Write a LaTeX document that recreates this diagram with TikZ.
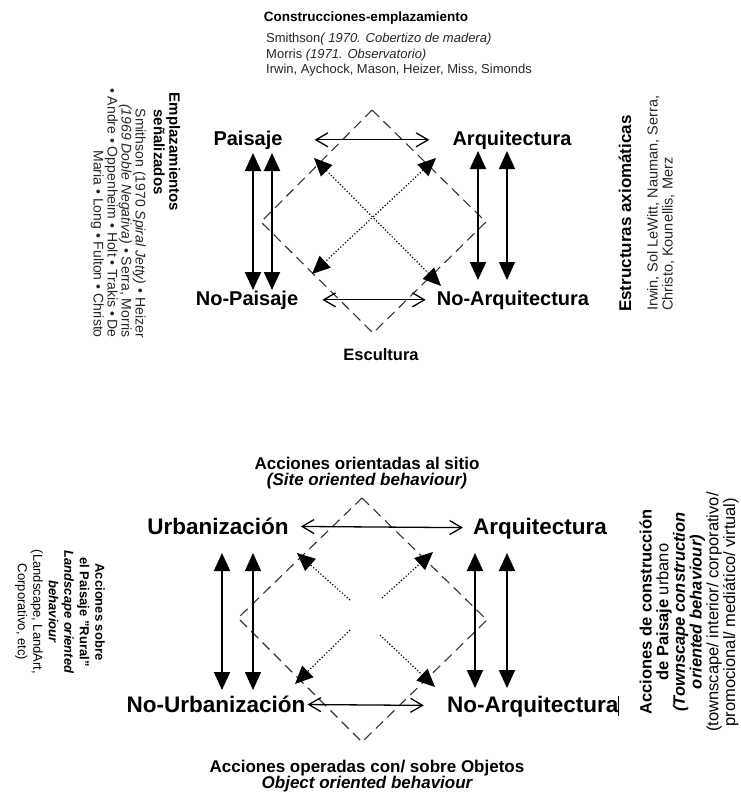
\documentclass[tikz,border=0pt]{standalone}
\usepackage{fontspec}
\setmainfont{Liberation Sans}
\usetikzlibrary{arrows.meta}

\begin{document}
\begin{tikzpicture}[x=1pt,y=-1pt, every node/.style={inner sep=0pt},
  lab/.style={font=\fontsize{20}{22}\selectfont\bfseries, anchor=base},
  labbig/.style={font=\fontsize{22.5}{25}\selectfont\bfseries, anchor=base},
  head/.style={font=\fontsize{17}{19}\selectfont\bfseries},
  names/.style={font=\fontsize{13}{15.5}\selectfont, text=black!85},
  frame/.style={dash pattern=on 10pt off 6pt, line width=1.1pt, black!80},
  cross/.style={dotted, line width=1.2pt},
  big/.style={{Triangle[length=18pt,width=16pt]}-{Triangle[length=18pt,width=16pt]}},
  opp/.style={line width=1.3pt, {Straight Barb[length=12pt,width=14pt]}-{Straight Barb[length=12pt,width=14pt]}}]
\useasboundingbox (0,0) rectangle (740,793);

% upper diagram
\node[head, font=\fontsize{13.5}{15}\selectfont\bfseries] (ttop) at (366,18) {Construcciones-emplazamiento};
\node[names, align=left, anchor=north west] (auth) at (266,33)
  {Smithson\textit{( 1970. Cobertizo de madera)}\\
   Morris \textit{(1971. Observatorio)}\\
   Irwin, Aychock, Mason, Heizer, Miss, Simonds};
\node[lab] (pai) at (248,145) {Paisaje};
\node[lab] (arq) at (512,145) {Arquitectura};
\node[lab] (nopai) at (247,305) {No-Paisaje};
\node[lab] (noarq) at (513,305) {No-Arquitectura};
\node[font=\fontsize{16.5}{18}\selectfont\bfseries] (esc) at (381,355) {Escultura};

\node[font=\fontsize{15}{15.5}\selectfont\bfseries, align=center, rotate=-90]
  (empl) at (167,152) {Emplazamientos\\señalizados};
\node[names, font=\fontsize{14}{14}\selectfont, align=right, rotate=-90, anchor=north east] (emplist) at (146,338)
  {Smithson (1970 \textit{Spiral Jetty)} • Heizer\\
   \textit{(1969 Doble Negativa)} • Serra, Morris\\
   • Andre • Oppenheim • Holt • Trakis • De\\
   Maria • Long • Fulton • Christo};
\node[head, rotate=90, anchor=west] (estr) at (625,312) {Estructuras axiomáticas};
\node[names, font=\fontsize{14.5}{15}\selectfont, align=left, rotate=90, anchor=north west] (estrlist) at (647,311)
  {Irwin, Sol LeWitt, Nauman, Serra,\\ Christo, Kounellis, Merz};

\coordinate (dt) at (372,110);
\coordinate (dr) at (486,222);
\coordinate (db) at (373,333);
\coordinate (dl) at (261,222);
\draw[frame] (dt) -- (dr) -- (db) -- (dl) -- cycle;

\coordinate (c1) at (314,158);
\coordinate (c2) at (441,286);
\coordinate (c3) at (436,158);
\coordinate (c4) at (312,274);
\draw[cross, big] (c1) -- (c2);
\draw[cross, big] (c3) -- (c4);

\draw[opp, shorten <=32pt, shorten >=23pt] (pai) -- (arq);
\draw[opp, shorten <=24pt, shorten >=11pt] (nopai) -- (noarq);

\coordinate (v1) at (253,153); \coordinate (w1) at (253,290);
\coordinate (v2) at (272,153); \coordinate (w2) at (272,290);
\coordinate (v3) at (478,151); \coordinate (w3) at (478,280);
\coordinate (v4) at (507,151); \coordinate (w4) at (507,280);
\draw[big, line width=2pt] (v1) -- (w1);
\draw[big, line width=2pt] (v2) -- (w2);
\draw[big, line width=2pt] (v3) -- (w3);
\draw[big, line width=1.2pt] (v4) -- (w4);

% lower diagram
\node[head] (tsit) at (367,463) {Acciones orientadas al sitio};
\node[head, font=\fontsize{17}{19}\selectfont\bfseries\itshape] (tsite) at (367,481) {(Site oriented behaviour)};
\node[labbig] (urb) at (218,534) {Urbanización};
\node[labbig] (arq2) at (540,534) {Arquitectura};
\node[labbig] (nourb) at (216,712) {No-Urbanización};
\node[labbig] (noarq2) at (533,712) {No-Arquitectura\rule[-4pt]{0.7pt}{20pt}};
\node[head] (tobj) at (367,768) {Acciones operadas con/ sobre Objetos};
\node[head, font=\fontsize{17}{19}\selectfont\bfseries\itshape] (tobje) at (367,784) {Object oriented behaviour};

\node[font=\fontsize{13}{15.5}\selectfont, align=center, rotate=-90] (rural) at (60,612)
  {\textbf{Acciones sobre}\\ \textbf{el Paisaje "Rural"}\\
   \textbf{\textit{Landscape oriented}}\\ \textbf{\textit{behaviour}}\\
   (Landscape, LandArt,\\ Corporativo, etc)};
\node[font=\fontsize{16.5}{16.7}\selectfont, align=center, rotate=90] (urbano) at (689,612)
  {\textbf{Acciones de construcción}\\ \textbf{de Paisaje} urbano\\
   \textbf{\textit{(Townscape construction}}\\ \textbf{\textit{oriented behaviour)}}\\
   (townscape/ interior/ corporativo/\\ promocional/ mediático/ virtual)};

\coordinate (et) at (362,498);
\coordinate (er) at (487,620);
\coordinate (eb) at (362,742);
\coordinate (el) at (238,618);
\draw[frame] (et) -- (er) -- (eb) -- (el) -- cycle;

\coordinate (g1) at (350,600); \coordinate (k1) at (297,553);
\coordinate (g2) at (382,598); \coordinate (k2) at (433,552);
\coordinate (g3) at (350,630); \coordinate (k3) at (295,684);
\coordinate (g4) at (380,635); \coordinate (k4) at (435,687);
\draw[cross, -{Triangle[length=18pt,width=16pt]}] (g1) -- (k1);
\draw[cross, -{Triangle[length=18pt,width=16pt]}] (g2) -- (k2);
\draw[cross, -{Triangle[length=18pt,width=16pt]}] (g3) -- (k3);
\draw[cross, -{Triangle[length=18pt,width=16pt]}] (g4) -- (k4);

\draw[opp, shorten <=12pt, shorten >=10pt] (urb) -- (arq2);
\draw[opp, shorten <=2pt, shorten >=23pt] (nourb) -- (noarq2);

\coordinate (s1) at (222,553); \coordinate (t1) at (222,690);
\coordinate (s2) at (253,553); \coordinate (t2) at (253,690);
\coordinate (s3) at (475,553); \coordinate (t3) at (475,688);
\coordinate (s4) at (507,553); \coordinate (t4) at (507,688);
\draw[big, line width=2pt] (s1) -- (t1);
\draw[big, line width=1.2pt] (s2) -- (t2);
\draw[big, line width=2pt] (s3) -- (t3);
\draw[big, line width=2pt] (s4) -- (t4);
\end{tikzpicture}
\end{document}
